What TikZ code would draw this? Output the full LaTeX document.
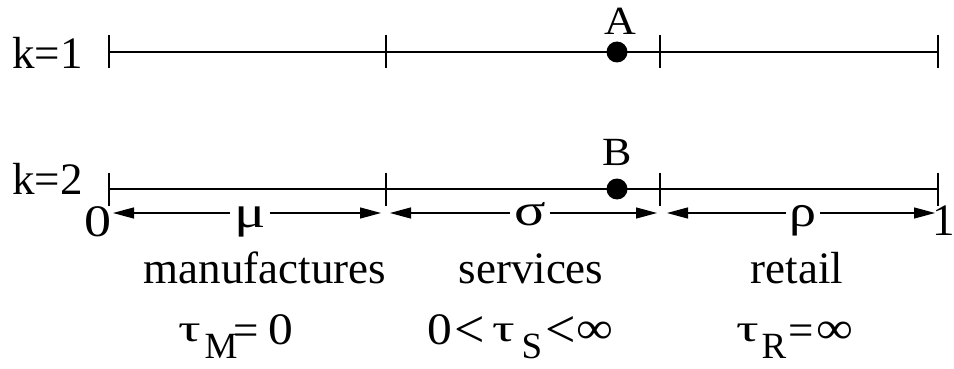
\documentclass[tikz,border=0pt]{standalone}
\usepackage{fontspec}
\setmainfont{Liberation Serif}
\usetikzlibrary{arrows.meta}
\tikzset{
  axis/.style={line width=1.7pt},
  tickmark/.style={line width=1.7pt},
  span/.style={line width=1.2pt,
    {Triangle[length=21pt,width=11pt]}-{Triangle[length=21pt,width=11pt]}},
  lbl/.style={inner sep=0pt, anchor=base, font=\fontsize{45}{45}\selectfont},
  pointlbl/.style={inner sep=0pt, anchor=base, font=\fontsize{40}{40}\selectfont},
  sublbl/.style={inner sep=0pt, anchor=base, font=\fontsize{37}{37}\selectfont},
  relsign/.style={inner sep=0pt, font=\fontsize{45}{45}\selectfont},
  greek/.style={lbl, fill=white, inner xsep=4pt, inner ysep=1pt},
  dotmark/.style={circle, fill=black, inner sep=0pt, minimum size=21pt},
}
% broad tau and large less-than sign of the cost row
\newcommand\widetau{\scalebox{1.25}[0.85]{τ}}
\newcommand\biglt{\scalebox{1.2}{<}}
\begin{document}
\begin{tikzpicture}[x=1pt,y=-1pt]
\useasboundingbox (0,0) rectangle (954,369);

% axis k=1
\coordinate (u0) at (109,52);
\coordinate (u1) at (386,52);
\coordinate (u2) at (660,52);
\coordinate (u3) at (938,52);
\draw[axis] (u0) -- (u3);
\foreach \p in {u0,u1,u2,u3}
  \draw[tickmark] (\p) ++(0,-16.5) -- ++(0,33);
\node[lbl, anchor=base west] (k1) at (12,69) {k=1};
\node[dotmark] (dA) at (617,52) {};
\node[pointlbl] (A) at (620,35) {\scalebox{1.1}[1]{A}};

% axis k=2
\coordinate (v0) at (109,189);
\coordinate (v1) at (386,189);
\coordinate (v2) at (660,189);
\coordinate (v3) at (938,189);
\draw[axis] (v0) -- (v3);
\foreach \p in {v0,v1,v2,v3}
  \draw[tickmark] (\p) ++(0,-16.5) -- ++(0,33);
\node[lbl, anchor=base west] (k2) at (12,194) {k=2};
\node[dotmark] (dB) at (617,189) {};
\node[pointlbl] (B) at (617,165) {\scalebox{1.1}[1]{B}};

% interval widths
\coordinate (a0) at (113,213);
\coordinate (a1) at (381,213);
\coordinate (a2) at (390,213);
\coordinate (a3) at (657,213);
\coordinate (a4) at (667,213);
\coordinate (a5) at (935,213);
\draw[span] (a0) -- (a1);
\draw[span] (a2) -- (a3);
\draw[span] (a4) -- (a5);
\node[greek] (mu) at (250,227) {\scalebox{1.3}[1]{μ}};
\node[greek] (sigma) at (530,225) {\scalebox{1.3}[1]{σ}};
\node[greek] (rho) at (803,226) {\scalebox{1.2}[1]{ρ}};
\node[lbl] (zero) at (97.5,236) {\scalebox{1.2}[1]{0}};
\node[lbl] (one) at (944,235) {1};

% sector names
\node[lbl] (manu) at (265,283) {manufactures};
\node[lbl] (serv) at (531,283) {services};
\node[lbl] (ret) at (797,283) {retail};

% transport costs: manufactures
\node[lbl] (tMtau) at (190,341) {\widetau};
\node[sublbl] (tMsub) at (221,358) {M};
\node[lbl] (tMeq) at (246,345) {=};
\node[lbl] (tMval) at (281,344) {\scalebox{1.1}[1]{0}};

% transport costs: services
\node[lbl] (tSlo) at (440,344) {\scalebox{1.1}[1]{0}};
\node[relsign] (tSlt1) at (470,332) {\biglt};
\node[lbl] (tStau) at (504,341) {\widetau};
\node[sublbl] (tSsub) at (532,358) {S};
\node[relsign] (tSlt2) at (561,332) {\biglt};
\node[lbl] (tShi) at (595,343) {\scalebox{1.15}[1]{∞}};

% transport costs: retail
\node[lbl] (tRtau) at (747.5,341) {\widetau};
\node[sublbl] (tRsub) at (774,358) {R};
\node[lbl] (tReq) at (801,345) {=};
\node[lbl] (tRval) at (835,343) {\scalebox{1.15}[1]{∞}};
\end{tikzpicture}
\end{document}
